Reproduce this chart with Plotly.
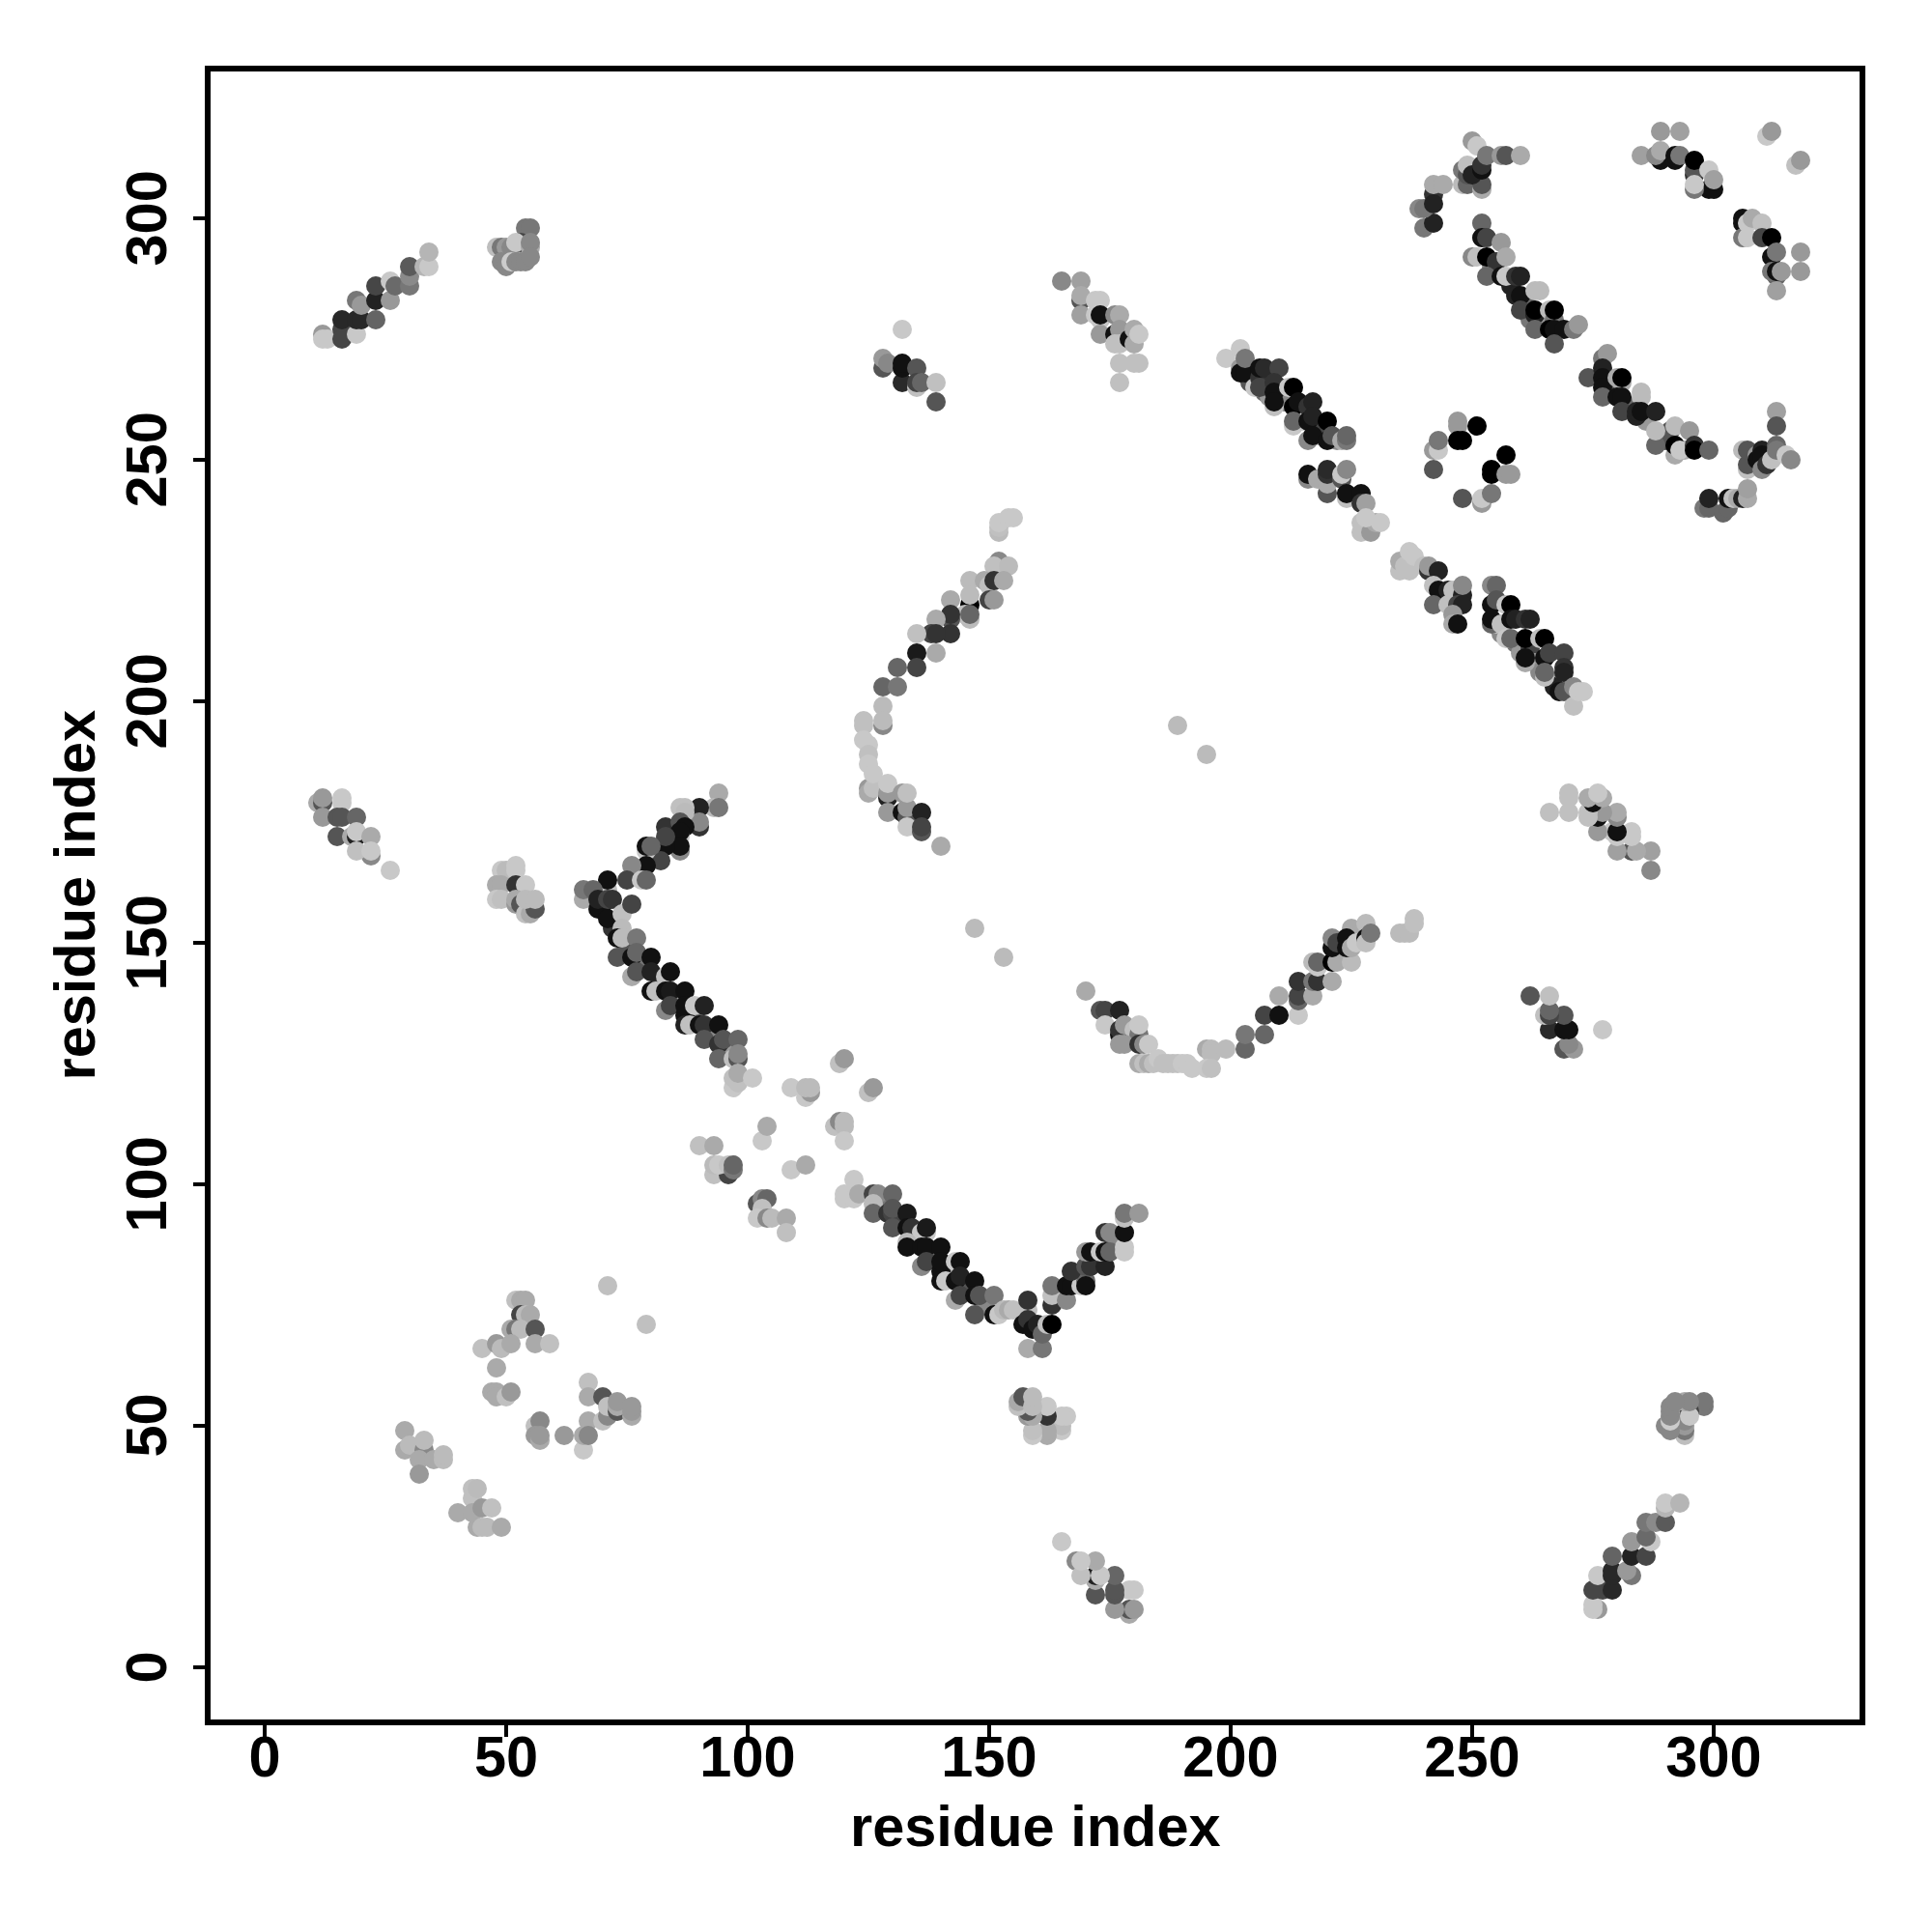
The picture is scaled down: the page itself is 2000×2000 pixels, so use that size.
import plotly.graph_objects as go

# each contact: (residue i, residue j, grey level); list order is draw order
diag_a = [(12,276,153),(12,275,200),(13,275,200),(16,277,70),(16,275,70),(19,276,200),(16,279,40),(19,279,40),(20,279,40),(23,279,100),(19,283,119),(20,282,153),(23,283,34),(23,286,70),(26,283,153),(26,287,200),(27,286,106),(30,286,119),(30,288,138),(30,290,90),(33,290,181),(34,290,200),(34,293,181)]
patch_b = [(54,298,119),(55,298,119),(48,294,190),(49,294,119),(50,294,153),(51,294,136),(53,295,68),(52,295,200),(55,294,170),(55,295,136),(49,291,136),(50,290,136),(51,291,204),(52,291,136),(53,291,136),(54,291,136),(55,292,136)]
patch_c = [(132,277,200),(128,269,85),(128,271,153),(129,270,136),(132,266,42),(132,269,17),(132,270,17),(135,269,85),(135,265,192),(135,266,68),(136,266,102),(139,266,192),(139,262,85)]
patch_d = [(165,287,136),(169,283,85),(169,287,160),(169,284,170),(169,280,160),(172,280,200),(173,279,200),(172,283,200),(173,283,200),(173,280,17),(173,276,153),(176,280,136),(177,280,170),(176,276,17),(177,275,85),(177,277,153),(176,274,192),(177,274,192),(179,275,17),(180,274,170),(180,277,170),(181,276,200),(177,270,192),(180,270,192),(181,270,192),(177,266,192)]
patch_p = [(11,179,170),(12,179,85),(12,180,153),(12,176,153),(16,180,200),(16,179,200),(15,176,85),(16,176,85),(19,176,102),(15,172,85),(18,172,170),(19,172,34),(19,173,200),(22,172,170),(22,168,136),(19,169,192),(22,169,200),(26,165,200)]
patch_q = [(49,165,200),(50,165,187),(52,166,200),(52,165,200),(48,162,170),(49,162,170),(52,162,51),(54,162,200),(48,159,200),(49,159,192),(52,158,153),(52,159,170),(53,158,85),(54,156,192),(55,156,170),(56,157,85),(54,159,187),(56,159,187)]

fill_band = [(204,266,85),(205,267,153),(207,264,102),(208,263,153),(210,265,51),(211,262,136),(214,259,102),(215,258,200),(218,255,192),(219,256,68),(222,254,136),(256,214,136),(255,216,192),(259,212,119),(260,210,153),(262,211,68),(263,208,153),(264,206,136),(267,204,153),(267,203,34)]
fill_arc = [(254,290,136),(258,286,34),(261,283,102),(262,279,119),(265,279,153),(279,265,85),(283,261,102),(286,258,153),(290,254,85),(294,252,170)]
fill_vee = [(88,176,68),(84,172,85),(81,168,119),(77,165,153),(70,158,34),(72,153,51),(75,149,85),(78,145,119),(82,142,51),(85,138,153),(89,135,102),(92,131,136),(96,128,153),(128,96,119),(131,92,68),(135,88,34),(139,85,102),(142,81,153),(145,78,85),(149,75,136),(165,78,102),(168,81,85),(172,84,119),(176,88,136)]

arc_e = [(240,298,119),(242,299,34),(239,302,136),(240,302,119),(242,305,51),(242,303,34),(242,307,170),(244,307,170),(248,307,187),(249,307,102),(252,306,170),(252,307,85),(248,310,119),(249,309,85),(250,316,153),(251,315,200),(249,311,192),(250,309,34),(252,310,17),(252,311,51),(253,313,119),(256,313,153),(257,313,85),(260,313,170)]
arc_f = [(289,318,153),(293,318,160),(285,313,160),(289,312,17),(288,313,136),(289,314,170),(292,312,17),(292,313,17),(293,313,119),(296,309,51),(296,310,85),(296,312,0),(299,306,17),(300,306,17),(299,310,200),(296,306,119),(296,307,200),(300,308,160),(311,317,200),(312,318,153),(317,311,192),(318,312,153)]
arc_g = [(306,299,17),(306,300,17),(306,296,119),(307,299,200),(308,300,170),(310,299,192),(307,296,200),(310,296,68),(312,296,0),(312,292,17),(313,293,119),(318,293,153),(313,288,102),(312,289,119),(313,289,17),(314,289,153),(318,289,153),(313,285,160)]
arc_h = [(252,299,102),(252,296,17),(253,296,68),(256,295,153),(250,292,136),(251,292,192),(253,292,0),(255,291,51),(257,292,170),(253,288,102),(256,288,17),(257,288,200),(259,288,51),(260,288,34),(259,284,34),(260,284,17),(263,285,187),(264,285,187),(260,281,68),(263,280,34),(263,281,0),(266,281,187),(267,279,119),(267,281,0),(263,277,102),(266,277,0),(267,277,17),(269,277,17),(271,277,119),(272,278,153),(267,274,85)]
arc_i = [(277,271,119),(278,272,153),(274,267,85),(277,269,34),(277,267,17),(277,265,17),(280,267,170),(281,266,170),(281,267,0),(277,263,102),(280,263,17),(281,263,17),(285,263,187),(285,264,187),(281,260,68),(284,259,34),(284,260,34),(285,260,17),(288,260,34),(291,256,85),(288,253,102),(292,257,187),(288,256,187),(295,256,153),(292,251,170),(292,253,0),(293,252,200),(296,253,51),(296,252,0),(299,252,102)]
arc_j = [(306,252,187),(307,248,192),(307,249,85),(307,252,85),(309,251,153),(309,250,17),(310,252,34),(310,251,17),(310,248,136),(311,249,51),(312,250,192),(313,260,160),(313,257,85),(313,253,102),(313,252,119),(315,251,200),(316,250,136),(298,240,119),(299,240,102),(299,242,34),(302,239,102),(303,240,102),(303,242,17),(304,242,192),(305,242,170),(306,242,34),(307,242,170),(307,244,160)]
ring = [(247,258,153),(247,257,153),(251,257,0),(247,254,0),(248,254,0),(242,252,153),(243,252,200),(243,254,119),(242,248,85),(257,251,0),(254,248,0),(254,247,0),(257,247,153),(258,247,153),(248,242,85),(252,241,153),(252,242,200),(254,243,119)]

band_k = [(199,271,200),(202,273,200),(202,269,153),(202,268,17),(203,268,17),(203,271,119),(205,265,200),(206,267,51),(206,265,68),(206,269,17),(207,269,42),(210,269,68),(209,266,51),(209,264,17),(212,265,200),(213,265,0),(209,261,192),(209,262,17),(213,261,0),(214,262,17),(216,261,51),(217,262,34),(213,257,200),(213,258,102),(216,258,17),(217,259,34),(220,258,0),(216,254,136),(217,255,17),(220,254,17),(221,255,85),(223,254,170),(224,254,119),(224,255,102)]
band_l = [(216,246,136),(216,247,17),(218,246,170),(220,243,85),(220,245,170),(220,247,51),(220,248,42),(223,246,85),(223,247,200),(224,248,136),(224,242,192),(224,243,17),(227,243,17),(227,241,51),(228,241,160),(227,235,192),(227,237,192),(229,235,153),(230,237,170),(228,238,200),(231,237,200)]
band_m = [(235,227,192),(235,229,170),(236,228,192),(237,227,192),(237,231,200),(238,230,200),(240,228,192),(241,227,51),(241,228,153),(243,227,34),(242,224,192),(243,223,17),(245,223,34),(246,223,192),(248,222,34),(248,224,136),(242,220,102),(245,220,192),(247,220,68),(248,220,34),(246,218,153),(246,216,170),(247,216,17)]
band_n = [(254,216,102),(254,217,17),(254,220,17),(254,224,136),(255,224,102),(255,221,85),(257,220,200),(258,220,0),(256,216,192),(258,217,17),(259,217,34),(261,217,51),(262,217,34),(257,213,200),(258,213,102),(261,213,0),(264,213,192),(265,213,0),(261,208,170),(261,209,17),(265,209,17),(266,210,68),(269,210,68),(265,205,192),(265,206,102),(269,207,51),(269,206,34),(268,202,17),(269,202,85),(271,203,136),(271,199,192),(272,202,200),(273,202,200)]
lone = [(189,195,187),(195,189,187),(147,153,187),(153,147,187)]

curve_n = [(152,235,187),(152,236,192),(152,237,200),(154,238,200),(155,238,200),(152,229,136),(151,228,192),(154,228,187),(146,225,187),(149,225,170),(150,224,192),(151,225,51),(153,225,170),(146,220,0),(146,222,187),(150,221,68),(151,221,153),(142,221,170),(146,217,187),(145,218,192),(146,218,102),(142,217,85),(142,218,51),(139,217,170),(142,214,51),(138,214,68),(139,214,51),(135,214,192),(135,210,26),(139,210,170),(135,207,68),(131,207,102),(128,203,102),(131,203,119),(128,199,187),(128,195,136),(128,196,187),(124,195,192),(124,196,192),(124,192,200),(125,191,200),(125,189,192),(125,187,200),(125,182,153),(125,181,170),(126,182,192),(126,185,200),(129,180,34),(129,181,153),(129,183,200),(129,177,153),(132,177,17),(132,181,153),(133,176,85),(133,178,153),(133,181,192),(136,177,34),(133,174,200),(136,173,85),(136,174,68),(140,170,170)]

vee_r = [(94,181,170),(93,178,187),(94,178,119),(90,174,51),(90,178,34),(90,175,136),(86,178,192),(87,178,192),(87,177,187),(83,174,51),(86,175,85),(87,174,17),(86,172,200),(86,173,17),(86,169,136),(86,170,17),(82,170,85),(83,170,17),(83,172,68),(82,167,68),(79,169,200),(79,170,17),(80,170,102),(79,166,17),(76,166,136),(75,163,68),(78,163,200),(79,163,102),(71,161,192),(71,163,17),(66,159,170),(66,161,119),(68,161,102),(69,157,17),(69,159,34),(71,159,68),(72,159,51),(71,155,17),(74,156,192),(76,158,68),(74,153,187),(73,151,17),(74,151,187),(77,151,119),(73,147,85),(76,147,17),(77,148,102),(80,147,17),(76,143,170),(77,144,85),(80,144,34),(83,143,192),(84,144,17),(80,140,17),(81,140,192),(83,140,17),(84,140,26),(87,140,17),(83,136,136),(84,137,68),(87,135,17),(87,137,17),(89,137,200),(91,137,34),(87,133,34),(88,133,192),(90,133,17),(91,133,51),(94,133,17),(91,130,85),(94,129,51),(95,130,85),(98,130,102),(94,126,102),(97,126,192),(98,126,85),(98,127,136),(97,120,200),(97,122,192),(98,121,192),(98,123,170),(101,122,200)]
scatter_s = [(119,125,192),(120,126,153),(109,120,200),(112,118,200),(113,119,153),(112,120,187),(113,120,187),(125,119,192),(126,120,153),(103,109,200),(104,112,170),(118,112,192),(119,113,136),(120,112,187),(120,113,187),(120,109,200),(90,108,192),(93,108,170),(93,102,192),(96,102,68),(93,104,187),(94,104,200),(96,104,192),(97,103,119),(97,104,102),(109,103,200),(112,104,170),(102,96,85),(103,97,136),(104,97,102),(103,95,192),(102,93,200),(104,93,136),(105,93,187),(108,93,170),(108,90,192),(122,101,200),(120,98,200),(120,97,200),(122,97,200),(123,98,170)]
vee_t = [(126,98,68),(127,98,136),(130,98,102),(126,96,187),(126,94,102),(129,94,51),(130,94,68),(130,95,85),(133,94,26),(130,91,85),(133,91,17),(134,91,51),(136,90,200),(137,90,200),(137,91,26),(133,88,187),(133,87,17),(136,87,17),(137,87,17),(140,87,17),(136,83,136),(137,84,68),(140,82,17),(140,84,17),(143,84,200),(144,84,17),(140,80,17),(141,80,200),(143,80,17),(144,81,34),(147,80,17),(143,76,170),(144,77,68),(147,77,17),(148,77,85),(151,77,119),(147,73,85),(151,73,17),(152,73,200),(153,74,187),(154,74,170),(155,74,192),(157,71,17),(158,74,192),(158,76,51),(158,72,51),(159,70,17),(160,71,34),(158,66,170),(161,66,119),(161,69,102),(162,71,192),(163,71,0)]
vee_u = [(163,75,51),(163,77,192),(163,79,119),(166,76,136),(166,79,17),(167,79,17),(169,79,200),(170,80,102),(170,79,17),(167,82,51),(170,83,85),(171,83,51),(174,83,34),(170,86,153),(171,86,17),(173,86,200),(174,86,17),(175,86,102),(174,90,51),(175,90,136),(178,87,200),(178,86,200),(178,90,17),(178,93,192),(178,94,119),(181,94,153)]
curve_v = [(170,140,170),(173,136,85),(174,136,68),(177,136,34),(174,133,200),(177,131,17),(177,132,51),(178,133,153),(180,132,192),(181,131,119),(181,133,200),(177,129,153),(178,129,153),(181,129,51),(182,129,136),(183,129,200),(181,125,170),(182,125,192),(183,125,170),(184,125,192),(185,126,200),(186,125,192),(187,125,192),(188,125,192),(189,125,192),(190,125,200),(191,125,200),(192,124,200),(195,128,170),(196,128,187),(196,127,187),(199,128,187),(195,124,200),(196,124,192),(203,128,102),(203,131,119),(207,131,102),(207,135,68),(210,135,17),(214,135,200),(210,139,170),(214,138,102),(214,139,68),(214,142,51),(217,139,170),(217,142,119),(218,142,51),(221,142,170),(217,146,187),(218,145,200),(218,146,102),(221,146,0),(222,146,170),(225,146,187),(221,149,17),(221,151,136),(222,150,68),(225,153,170),(224,149,17),(224,151,17),(225,149,170),(226,150,200),(228,154,187),(228,151,17),(228,150,192),(229,152,119),(235,152,187),(236,152,187),(237,152,187),(238,154,192),(238,155,192)]
cluster_w = [(71,79,192),(79,71,192),(52,76,192),(53,76,170),(54,76,170),(53,73,68),(54,73,187),(55,73,170),(51,70,170),(52,70,119),(53,70,187),(56,70,85),(45,66,192),(48,67,153),(49,66,187),(51,67,170),(56,67,170),(59,67,192),(48,62,170),(47,57,170),(48,57,170),(48,56,170),(50,56,192),(51,57,153),(56,50,192),(57,51,136),(56,48,153),(57,47,170),(57,48,153),(62,48,153),(67,59,192),(67,56,170),(70,56,85),(66,45,200),(66,48,170),(67,51,170),(67,48,136),(70,51,192),(71,52,136),(71,54,192),(73,53,85),(73,54,170),(73,55,153),(76,52,170),(76,53,153),(76,54,153)]
cluster_x = [(29,49,170),(29,45,170),(30,46,187),(33,45,136),(33,47,187),(32,43,170),(32,40,153),(35,43,170),(37,43,187),(37,44,187),(43,35,192),(43,37,192),(44,37,187),(40,32,170),(43,32,170),(45,33,153),(47,33,192),(44,29,170),(45,29,187),(46,29,187),(49,29,170)]

# the map is symmetric: these blocks also appear with i and j swapped
mirrored_blocks = [diag_a, patch_b, patch_c, patch_d, patch_p, patch_q]
single_blocks = [fill_band, fill_arc, fill_vee, arc_e, arc_f, arc_g, arc_h, arc_i, arc_j, ring, band_k, band_l, band_m, band_n, lone,
                 curve_n, vee_r, scatter_s, vee_t, vee_u, curve_v, cluster_w, cluster_x]

tick_values = [0, 50, 100, 150, 200, 250, 300]
axis_title = "residue index"

xs, ys, colors = [], [], []
for block in mirrored_blocks:
    for i, j, g in block:
        xs.append(i); ys.append(j); colors.append(f"rgb({g},{g},{g})")
    for i, j, g in block:
        xs.append(j); ys.append(i); colors.append(f"rgb({g},{g},{g})")
for block in single_blocks:
    for i, j, g in block:
        xs.append(i); ys.append(j); colors.append(f"rgb({g},{g},{g})")

fig = go.Figure(go.Scatter(x=xs, y=ys, mode="markers", hoverinfo="skip",
                           marker=dict(size=20, color=colors, line=dict(width=0))))

font = "Liberation Sans"
axis_style = dict(tickvals=tick_values, showgrid=False, zeroline=False,
                  showline=True, mirror=True, linecolor="black", linewidth=6,
                  ticks="outside", ticklen=12, tickwidth=4, tickcolor="black")
title_font = dict(family=font, size=59.5, color="black")
tick_font = dict(family=font, size=59.5, color="black", weight="bold")
fig.update_xaxes(**axis_style, range=[-11.2, 330.2], tickfont=tick_font, ticklabelstandoff=-30)
fig.update_yaxes(**axis_style, range=[-10.8, 330.4], showticklabels=False)
fig.update_layout(width=2000, height=2000, margin=dict(l=218, r=75, t=74, b=220),
                  paper_bgcolor="white", plot_bgcolor="white", showlegend=False)
# vertical tick labels and both axis titles, placed by value
for v in tick_values:
    fig.add_annotation(x=0, xref="paper", xshift=-103, y=v, yref="y", text=f"<b>{v}</b>", textangle=-90,
                       showarrow=False, font=dict(family=font, size=59.5, color="black"))
fig.add_annotation(x=0, xref="paper", xshift=-177, y=0.5, yref="paper", text=f"<b>{axis_title}</b>", textangle=-90,
                   showarrow=False, font=title_font)
fig.add_annotation(x=0.5, xref="paper", y=0, yref="paper", yshift=-146, text=f"<b>{axis_title}</b>",
                   showarrow=False, font=title_font)
fig.write_html("out.html", post_script="document.body.style.margin='0';", config={"displayModeBar": False})
